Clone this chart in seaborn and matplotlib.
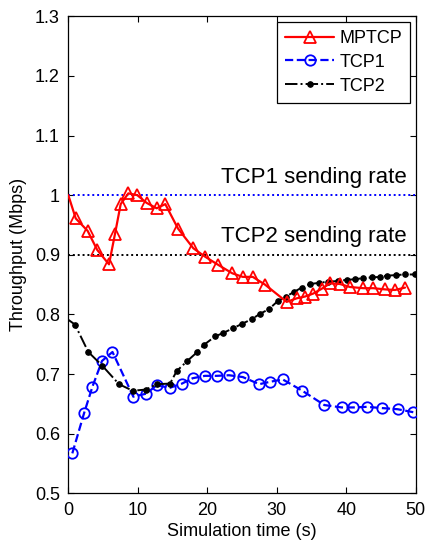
import matplotlib
matplotlib.use("Agg")
import matplotlib.pyplot as plt
import seaborn as sns

# Simulation time (s) and throughput (Mbps) for each flow
mptcp_t = [0.0, 1.07, 2.79, 4.17, 5.86, 6.72, 7.54, 8.64, 9.93, 11.28, 12.72,
           13.96, 15.79, 17.99, 19.67, 21.59, 23.6, 25.1, 26.54, 28.31, 31.43,
           32.87, 34.07, 35.26, 36.47, 37.66, 39.1, 40.54, 42.46, 43.9, 45.58,
           47.02, 48.46]
mptcp_v = [1.000, 0.961, 0.940, 0.908, 0.884, 0.935, 0.985, 1.003, 1.000, 0.987,
           0.978, 0.985, 0.944, 0.911, 0.897, 0.883, 0.869, 0.863, 0.863, 0.850,
           0.821, 0.827, 0.830, 0.835, 0.843, 0.852, 0.851, 0.846, 0.844, 0.844,
           0.842, 0.841, 0.845]

tcp1_t = [0.58, 2.26, 3.48, 4.85, 6.36, 9.36, 11.18, 12.72, 14.64, 16.36, 17.9,
          19.67, 21.36, 23.13, 25.1, 27.49, 29.03, 30.86, 33.68, 36.85, 39.35,
          41.02, 42.95, 45.11, 47.41, 49.65]
tcp1_v = [0.567, 0.634, 0.679, 0.722, 0.737, 0.662, 0.667, 0.681, 0.677, 0.684,
          0.693, 0.697, 0.697, 0.698, 0.695, 0.683, 0.687, 0.691, 0.672, 0.648,
          0.644, 0.644, 0.645, 0.643, 0.641, 0.636]

tcp2_t = [0.0, 0.96, 2.88, 4.89, 7.3, 9.27, 11.18, 12.72, 14.64, 15.6, 17.13,
          18.57, 19.53, 21.11, 22.31, 23.75, 24.96, 26.4, 27.59, 28.89, 30.11,
          31.33, 32.53, 33.59, 34.79, 36.13, 37.42, 38.86, 40.07, 41.26, 42.46,
          43.67, 44.86, 45.91, 47.16, 48.46, 49.9]
tcp2_v = [0.791, 0.783, 0.737, 0.714, 0.683, 0.672, 0.674, 0.683, 0.684, 0.705,
          0.722, 0.737, 0.749, 0.763, 0.769, 0.777, 0.784, 0.792, 0.801, 0.809,
          0.822, 0.830, 0.838, 0.845, 0.851, 0.853, 0.855, 0.856, 0.858, 0.859,
          0.861, 0.862, 0.863, 0.865, 0.866, 0.867, 0.867]

tcp1_rate = 1.0
tcp2_rate = 0.9
rate_labels = ["TCP1 sending rate", "TCP2 sending rate"]
x_ticks = [0, 10, 20, 30, 40, 50]
y_ticks = [0.5, 0.6, 0.7, 0.8, 0.9, 1.0, 1.1, 1.2, 1.3]
y_tick_labels = ["0.5", "0.6", "0.7", "0.8", "0.9", "1", "1.1", "1.2", "1.3"]

sns.set_theme(style="ticks")
plt.rcParams["font.family"] = ["Liberation Sans", "DejaVu Sans"]
plt.rcParams["axes.linewidth"] = 0.9
plt.rcParams["text.color"] = "black"
plt.rcParams["axes.labelcolor"] = "black"
plt.rcParams["xtick.color"] = "black"
plt.rcParams["ytick.color"] = "black"

fig = plt.figure(figsize=(4.28, 5.48), dpi=100)
ax = fig.add_axes([68.3 / 428, 1 - 493.3 / 548, (415.7 - 68.3) / 428, (493.3 - 16.3) / 548])

# reference sending rates
ax.axhline(tcp1_rate, color="#0000ff", lw=1.4, ls=(0, (1, 1.5)), zorder=1)
ax.axhline(tcp2_rate, color="black", lw=1.4, ls=(0, (1, 1.5)), zorder=1)
ax.text(48.7, tcp1_rate + 0.021, rate_labels[0], ha="right", va="baseline", fontsize=16)
ax.text(48.7, tcp2_rate + 0.021, rate_labels[1], ha="right", va="baseline", fontsize=16)

sns.lineplot(x=mptcp_t, y=mptcp_v, ax=ax, color="#ff0000", lw=1.6, marker="^",
             markersize=9, markerfacecolor="none", markeredgecolor="#ff0000",
             markeredgewidth=1.3, markevery=slice(1, None), label="MPTCP",
             sort=False, zorder=4)
sns.lineplot(x=tcp1_t, y=tcp1_v, ax=ax, color="#0000ff", lw=1.6, linestyle="--",
             marker="o", markersize=7.5, markerfacecolor="none",
             markeredgecolor="#0000ff", markeredgewidth=1.3, label="TCP1",
             sort=False, zorder=3, dashes=False)
sns.lineplot(x=tcp2_t, y=tcp2_v, ax=ax, color="black", lw=1.4, linestyle="-.",
             marker="o", markersize=4, markerfacecolor="black",
             markeredgecolor="black", markevery=slice(1, None), label="TCP2",
             sort=False, zorder=3, dashes=False)

ax.set_xlim(0, 50)
ax.set_ylim(0.5, 1.3)
ax.set_xticks(x_ticks)
ax.set_yticks(y_ticks)
ax.set_yticklabels(y_tick_labels)
ax.tick_params(direction="in", length=4, width=0.8, top=True, right=True,
               labelsize=13, colors="black", pad=6)
for s in ax.spines.values():
    s.set_visible(True)
    s.set_color("black")

ax.set_xlabel("Simulation time (s)", fontsize=13, labelpad=3)
ax.set_ylabel("Throughput (Mbps)", fontsize=13, labelpad=6)

leg = ax.legend(loc="upper right", fontsize=13, frameon=True, fancybox=False,
                edgecolor="black", framealpha=1, borderaxespad=0.3,
                handlelength=2.7, handletextpad=0.3, labelspacing=0.38,
                borderpad=0.45)
leg.get_frame().set_linewidth(0.9)
for t in leg.get_texts():
    t.set_color("black")

fig.savefig("out.png", dpi=100)
